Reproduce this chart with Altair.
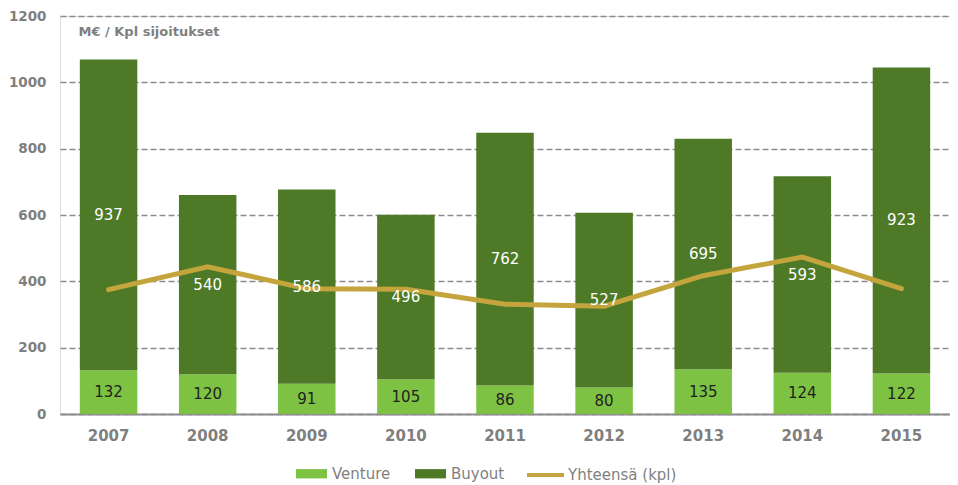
import altair as alt
import pandas as pd

years = ["2007", "2008", "2009", "2010", "2011", "2012", "2013", "2014", "2015"]
venture = [132, 120, 91, 105, 86, 80, 135, 124, 122]
buyout = [937, 540, 586, 496, 762, 527, 695, 593, 923]
total_count = [375, 444, 378, 376, 331, 325, 417, 473, 378]

series_bar = ["Venture", "Buyout"]
series_line = "Yhteensä (kpl)"
bar_colors = ["#7DC242", "#4E7A28"]
line_color = "#C4A43C"

rows = []
for y, v, b in zip(years, venture, buyout):
    rows.append(dict(year=y, series="Venture", value=v, start=0, end=v, mid=v / 2))
    rows.append(dict(year=y, series="Buyout", value=b, start=v, end=v + b, mid=v + b / 2))
bars_df = pd.DataFrame(rows)
line_df = pd.DataFrame(dict(year=years, value=total_count, series=series_line))

FONT = "DejaVu Sans"
GREY = "#7F7F7F"

x_enc = alt.X(
    "year:N",
    sort=years,
    scale=alt.Scale(paddingInner=0.42, paddingOuter=0.2),
    axis=alt.Axis(
        title=None, labelAngle=0, ticks=False, domain=True, domainColor="#8C8C8C",
        domainWidth=2, labelFont=FONT, labelFontSize=15, labelFontWeight="bold",
        labelColor=GREY, labelPadding=14, grid=False,
    ),
)
y_scale = alt.Scale(domain=[0, 1200], nice=False)

bars = alt.Chart(bars_df).mark_bar().encode(
    x=x_enc,
    y=alt.Y(
        "start:Q", scale=y_scale,
        axis=alt.Axis(
            values=[0, 200, 400, 600, 800, 1000, 1200], format="d", ticks=False, domain=False,
            grid=True, gridColor="#8C8C8C", gridDash=[6, 3], gridWidth=1.5,
            labelFont=FONT, labelFontSize=13.5, labelFontWeight="bold", labelColor=GREY,
            labelPadding=14,
            title="M€ / Kpl sijoitukset", titleAngle=0, titleX=18, titleY=19,
            titleAlign="left", titleBaseline="alphabetic", titleFont=FONT,
            titleFontSize=13, titleFontWeight="bold", titleColor=GREY,
        ),
    ),
    y2="end:Q",
    fill=alt.Fill(
        "series:N",
        scale=alt.Scale(domain=series_bar, range=bar_colors),
        legend=alt.Legend(
            title=None, orient="none", legendX=236, legendY=442, direction="horizontal",
            symbolType="M-1,-0.3H1V0.3H-1Z", symbolSize=961, symbolStrokeWidth=0,
            labelFont=FONT, labelFontSize=15, labelColor=GREY, labelOffset=5,
            columnPadding=24, padding=0,
        ),
    ),
)

line = alt.Chart(line_df).mark_line(strokeWidth=5, strokeCap="round").encode(
    x=alt.X("year:N", sort=years),
    y=alt.Y("value:Q", scale=y_scale),
    stroke=alt.Stroke(
        "series:N",
        scale=alt.Scale(domain=[series_line], range=[line_color]),
        legend=alt.Legend(
            title=None, orient="none", legendX=465, legendY=438.5, direction="horizontal",
            symbolType="stroke", symbolSize=1369, symbolStrokeWidth=4,
            labelFont=FONT, labelFontSize=15, labelColor=GREY, labelOffset=2, padding=0,
        ),
    ),
)

text_v = alt.Chart(bars_df).transform_filter(alt.datum.series == "Venture").mark_text(
    font=FONT, fontSize=15, baseline="middle", color="#1F1F1F"
).encode(x=alt.X("year:N", sort=years), y=alt.Y("mid:Q", scale=y_scale), text="value:Q")

text_b = alt.Chart(bars_df).transform_filter(alt.datum.series == "Buyout").mark_text(
    font=FONT, fontSize=15, baseline="middle", color="#FFFFFF"
).encode(x=alt.X("year:N", sort=years), y=alt.Y("mid:Q", scale=y_scale), text="value:Q")

chart = alt.layer(bars, line, text_v, text_b).resolve_scale(fill="independent", stroke="independent").properties(
    width=890, height=398,
    autosize=alt.AutoSizeParams(type="none"),
    padding={"left": 52, "top": 8, "right": 0, "bottom": 69},
).configure_view(stroke=None).configure(background="white")

chart.save("out.html", embed_options={"renderer": "svg", "actions": False})
